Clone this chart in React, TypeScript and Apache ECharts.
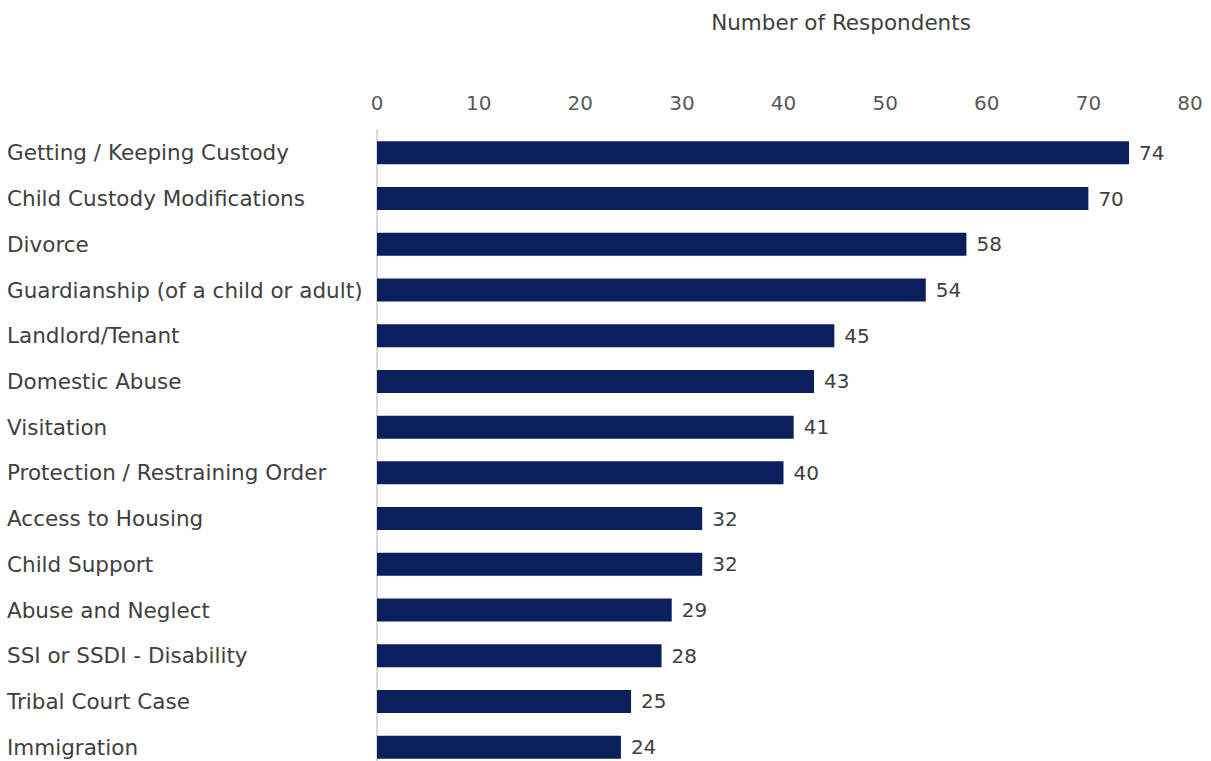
import React, { useEffect, useRef } from "react";
import * as echarts from "echarts";

const categories = [
  "Getting / Keeping Custody",
  "Child Custody Modifications",
  "Divorce",
  "Guardianship (of a child or adult)",
  "Landlord/Tenant",
  "Domestic Abuse",
  "Visitation",
  "Protection / Restraining Order",
  "Access to Housing",
  "Child Support",
  "Abuse and Neglect",
  "SSI or SSDI - Disability",
  "Tribal Court Case",
  "Immigration",
];
const values = [74, 70, 58, 54, 45, 43, 41, 40, 32, 32, 29, 28, 25, 24];
const axisTitle = "Number of Respondents";

export default function App() {
  const ref = useRef<HTMLDivElement>(null);
  useEffect(() => {
    document.body.style.margin = "0";
    const chart = echarts.init(ref.current!, null, { renderer: "svg" });
    const font = "'DejaVu Sans', sans-serif";
    chart.setOption({
      animation: false,
      graphic: [
        {
          type: "text",
          x: 841,
          y: 22,
          style: {
            text: axisTitle,
            fill: "#404040",
            font: `21.5px ${font}`,
            align: "center",
            verticalAlign: "middle",
          },
        },
      ],
      grid: { left: 377, right: 21, top: 130, height: 640, containLabel: false },
      xAxis: {
        type: "value",
        position: "top",
        min: 0,
        max: 80,
        interval: 10,
        axisLine: { show: false },
        axisTick: { show: false },
        splitLine: { show: false },
        axisLabel: { color: "#595959", fontSize: 20, fontFamily: font, margin: 17 },
      },
      yAxis: {
        type: "category",
        inverse: true,
        data: categories,
        axisLine: { show: true, lineStyle: { color: "#d9d9d9", width: 2 } },
        axisTick: { show: false },
        axisLabel: {
          color: "#404040",
          fontSize: 21.5,
          fontFamily: font,
          align: "left",
          margin: 370,
        },
      },
      series: [
        {
          type: "bar",
          data: values,
          barWidth: 23,
          itemStyle: { color: "#0a1f5c" },
          label: {
            show: true,
            position: "right",
            distance: 10,
            color: "#404040",
            fontSize: 20,
            fontFamily: font,
          },
        },
      ],
    });
    return () => chart.dispose();
  }, []);
  return (
    <div style={{ position: "fixed", left: 0, top: 0, width: 1211, height: 761, overflow: "hidden", background: "#fff" }}>
      <div ref={ref} style={{ width: 1211, height: 800 }} />
    </div>
  );
}
